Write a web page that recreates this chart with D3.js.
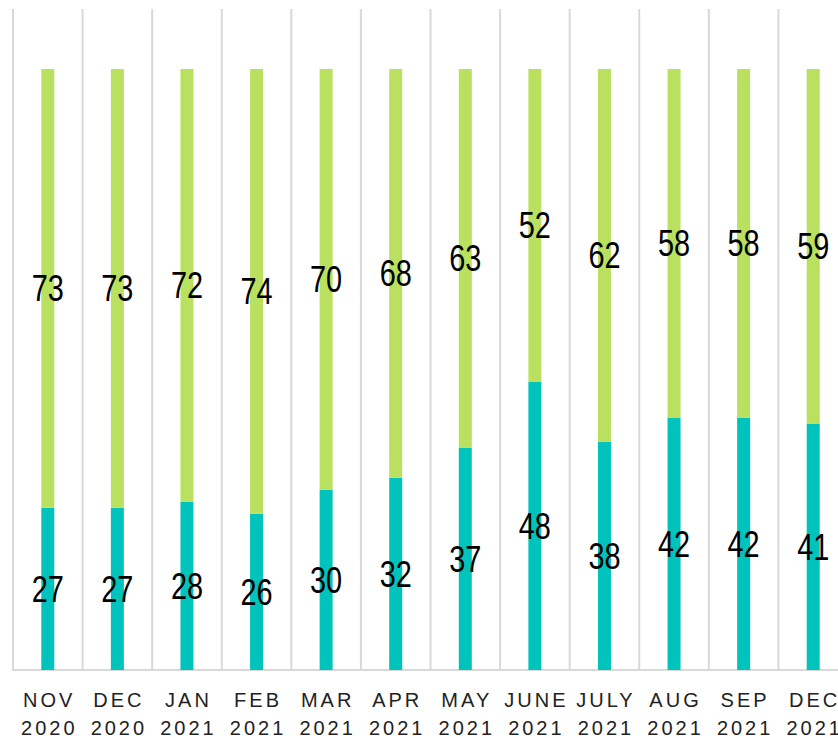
<!DOCTYPE html>
<html>
<head>
<meta charset="utf-8">
<script src="https://cdn.jsdelivr.net/npm/d3@7"></script>
<style>
  body { margin: 0; background: #fff; }
  svg { display: block; }
</style>
</head>
<body>
<svg id="chart" width="838" height="738"></svg>
<script>
// данные с картинки
const months = ["NOV", "DEC", "JAN", "FEB", "MAR", "APR", "MAY", "JUNE", "JULY", "AUG", "SEP", "DEC"];
const years = ["2020", "2020", "2021", "2021", "2021", "2021", "2021", "2021", "2021", "2021", "2021", "2021"];
const lower = [27, 27, 28, 26, 30, 32, 37, 48, 38, 42, 42, 41];
const upper = [73, 73, 72, 74, 70, 68, 63, 52, 62, 58, 58, 59];

const svg = d3.select("#chart");
const plotLeft = 13, plotRight = 848, plotBottom = 670, plotTop = 69, gridTop = 9;

const rows = months.map((m, i) => ({ idx: i, lower: lower[i], upper: upper[i] }));
const series = d3.stack().keys(["lower", "upper"])(rows);

const x = d3.scaleBand()
    .domain(d3.range(months.length))
    .range([plotLeft, plotRight]);

const y = d3.scaleLinear()
    .domain([0, 100])
    .range([plotBottom, plotTop]);

const colors = { lower: "#00c4bc", upper: "#b9e05f" };
const barW = 13;

// вертикальная сетка между категориями
svg.append("g")
    .selectAll("line")
    .data(d3.range(months.length + 1))
    .join("line")
    .attr("x1", i => plotLeft + i * x.step())
    .attr("x2", i => plotLeft + i * x.step())
    .attr("y1", gridTop)
    .attr("y2", plotBottom)
    .attr("stroke", "#d9d9d9")
    .attr("stroke-width", 2);

// ось
svg.append("line")
    .attr("x1", plotLeft - 1)
    .attr("x2", plotRight)
    .attr("y1", plotBottom)
    .attr("y2", plotBottom)
    .attr("stroke", "#d9d9d9")
    .attr("stroke-width", 2);

// столбцы
const groups = svg.append("g")
    .selectAll("g")
    .data(series)
    .join("g")
    .attr("fill", s => colors[s.key]);

groups.selectAll("rect")
    .data(s => s)
    .join("rect")
    .attr("x", d => x(d.data.idx) + x.bandwidth() / 2 - barW / 2)
    .attr("width", barW)
    .attr("y", d => y(d[1]))
    .attr("height", d => y(d[0]) - y(d[1]));

// подписи значений (узкий шрифт имитируем сжатием по x)
groups.selectAll("text")
    .data(s => s)
    .join("text")
    .attr("transform", d => `translate(${x(d.data.idx) + x.bandwidth() / 2},${(y(d[0]) + y(d[1])) / 2}) scale(0.78,1)`)
    .attr("text-anchor", "middle")
    .attr("dominant-baseline", "central")
    .attr("fill", "#000")
    .attr("font-family", "'Liberation Sans', Arial, sans-serif")
    .attr("font-size", 37)
    .text(d => d[1] - d[0]);

// подписи категорий
const labels = svg.append("g")
    .selectAll("text")
    .data(d3.range(months.length))
    .join("text")
    .attr("text-anchor", "middle")
    .attr("fill", "#222")
    .attr("font-family", "'Liberation Sans', Arial, sans-serif")
    .attr("font-size", 20)
    .attr("letter-spacing", 3);

labels.append("tspan")
    .attr("x", i => x(i) + x.bandwidth() / 2 + 1.5)
    .attr("y", 707)
    .text(i => months[i]);

labels.append("tspan")
    .attr("x", i => x(i) + x.bandwidth() / 2 + 1.5)
    .attr("y", 735)
    .text(i => years[i]);
</script>
</body>
</html>
